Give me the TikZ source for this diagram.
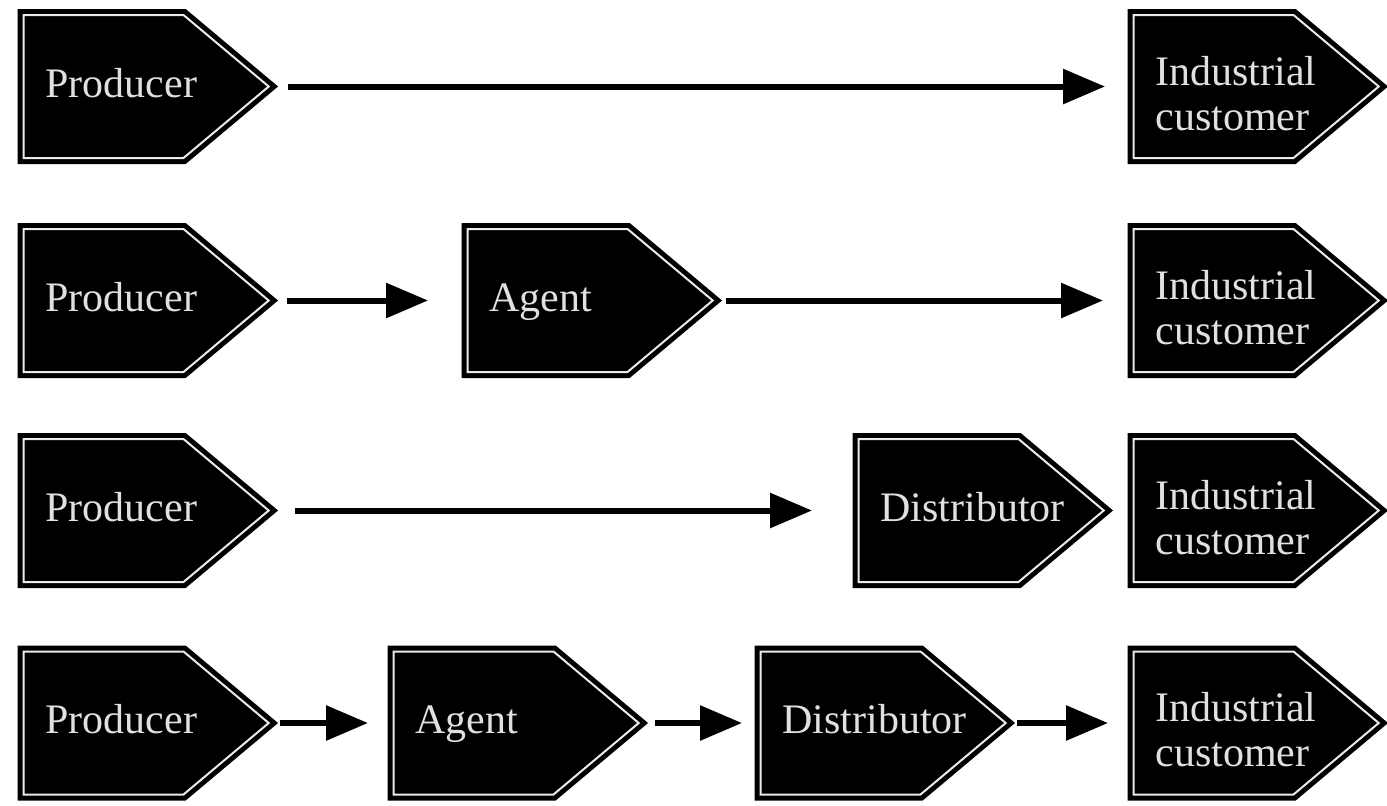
\documentclass[tikz,border=0pt]{standalone}
\usepackage{fontspec}
\setmainfont{Liberation Serif}
\usetikzlibrary{shapes.symbols, arrows.meta}
\tikzset{
  channel/.style={signal, signal to=east, signal pointer angle=80,
    fill=black, draw=black, line width=2.5pt,
    double=white!92!black, double distance=1pt,
    text=white!88!black,
    font={\fontsize{21}{22.5}\selectfont\hyphenpenalty=10000},
    text width=58pt, align=left, inner xsep=11pt, inner ysep=0pt,
    minimum height=71.5pt, anchor=west},
  oneline/.style={text height=15pt, text depth=4.5pt},
  twoline/.style={text height=21.5pt, text depth=23pt},
  flow/.style={-{Triangle[length=21pt,width=17pt]}, line width=3pt}
}

\begin{document}
\begin{tikzpicture}[x=0.5pt, y=-0.5pt]
    \useasboundingbox (0,0) rectangle (1387,805);
    % row 1: direct
    \node[channel, oneline] (prod1) at (21,86.5) {Producer};
    \node[channel, twoline] (ind1) at (1131,86.5) {Industrial\\customer};
    \draw[flow, shorten <=7.5pt, shorten >=13pt] (prod1.east) -- (ind1.west);
    % row 2: via agent
    \node[channel, oneline] (prod2) at (21,300.5) {Producer};
    \node[channel, oneline] (agent2) at (465,300.5) {Agent};
    \node[channel, twoline] (ind2) at (1131,300.5) {Industrial\\customer};
    \draw[flow, shorten <=7pt, shorten >=18.5pt] (prod2.east) -- (agent2.west);
    \draw[flow, shorten <=4.5pt, shorten >=14pt] (agent2.east) -- (ind2.west);
    % row 3: via distributor
    \node[channel, oneline] (prod3) at (21,510.5) {Producer};
    \node[channel, oneline] (dist3) at (856,510.5) {Distributor};
    \node[channel, twoline] (ind3) at (1131,510.5) {Industrial\\customer};
    \draw[flow, shorten <=11pt, shorten >=22pt] (prod3.east) -- (dist3.west);
    % row 4: via agent and distributor
    \node[channel, oneline] (prod4) at (21,723) {Producer};
    \node[channel, oneline] (agent4) at (391,723) {Agent};
    \node[channel, oneline] (dist4) at (758,723) {Distributor};
    \node[channel, twoline] (ind4) at (1131,723) {Industrial\\customer};
    \draw[flow, shorten <=3.5pt, shorten >=11.5pt] (prod4.east) -- (agent4.west);
    \draw[flow, shorten <=6pt, shorten >=8pt] (agent4.east) -- (dist4.west);
    \draw[flow, shorten <=3.5pt, shorten >=11.5pt] (dist4.east) -- (ind4.west);
\end{tikzpicture}
\end{document}
